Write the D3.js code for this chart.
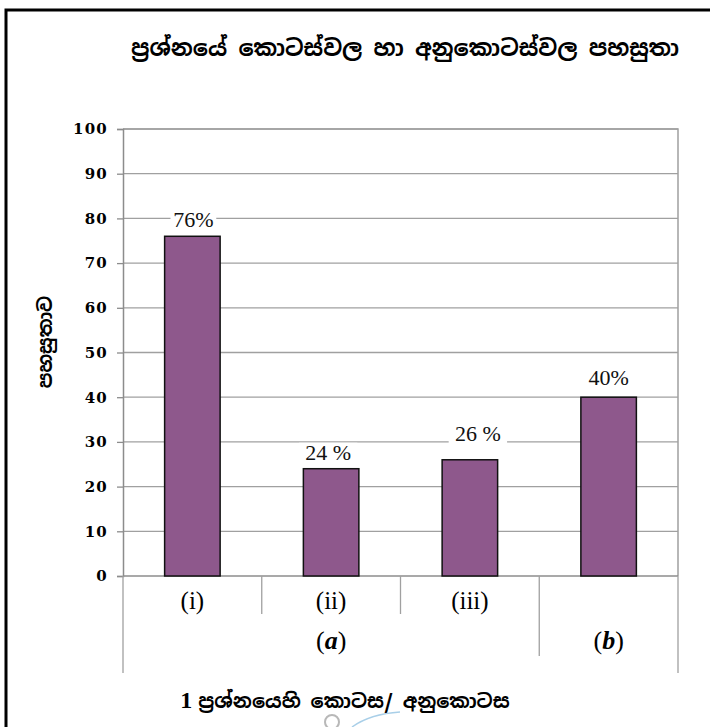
<!DOCTYPE html>
<html>
<head>
<meta charset="utf-8">
<script src="https://cdn.jsdelivr.net/npm/d3@7/dist/d3.min.js"></script>
<style>
  html, body { margin: 0; padding: 0; background: #fff; }
  svg { display: block; }
</style>
</head>
<body>
<script>
// Sub-question labels, their parent question groups and success percentages
const categories = ["(i)", "(ii)", "(iii)", "(b)"];
const subLabels = ["(i)", "(ii)", "(iii)", ""];
const groups = [
  { name: "a", from: 0, to: 3 },
  { name: "b", from: 3, to: 4 }
];
const values = [76, 24, 26, 40];
const valueLabels = ["76%", "24 %", "26 %", "40%"];
const yTicks = [0, 10, 20, 30, 40, 50, 60, 70, 80, 90, 100];

const titleText = "ප්‍රශ්නයේ කොටස්වල හා අනුකොටස්වල පහසුතා";
const yTitle = "පහසුතාව";
const xTitle = "ප්‍රශ්නයෙහි කොටස/ අනුකොටස";

const W = 710, H = 727;
const plot = { left: 123, right: 678, top: 129, bottom: 576 };

// per-label nudges (px) for the value labels: [dx, gap above bar]
const labelNudge = [[1, 9], [-3, 9], [8, 19], [0, 12]];

const svg = d3.select("body").append("svg").attr("width", W).attr("height", H);

// outer frame
svg.append("path")
  .attr("d", `M6,727 L6,10 L712,10`)
  .attr("fill", "none").attr("stroke", "#000").attr("stroke-width", 3);

const x = d3.scaleBand().domain(categories).range([plot.left, plot.right]).paddingInner(0).paddingOuter(0);
const y = d3.scaleLinear().domain([0, 100]).range([plot.bottom, plot.top]);

const serif = "'Liberation Serif', 'Times New Roman', serif";
const tickFont = "'DejaVu Serif', serif";
const sinhala = "'Noto Sans Sinhala', 'Iskoola Pota', 'Noto Sans', sans-serif";

// horizontal gridlines
svg.append("g").selectAll("line").data(yTicks.filter(d => d > 0)).join("line")
  .attr("x1", plot.left).attr("x2", plot.right)
  .attr("y1", d => y(d)).attr("y2", d => y(d))
  .attr("stroke", "#a0a0a0").attr("stroke-width", 1.3);

// plot border (top, right)
svg.append("path")
  .attr("d", `M${plot.left},${plot.top} L${plot.right},${plot.top} L${plot.right},${plot.bottom}`)
  .attr("fill", "none").attr("stroke", "#a0a0a0").attr("stroke-width", 1.5);

// y axis
const yAxis = svg.append("g").attr("transform", `translate(${plot.left},0)`)
  .call(d3.axisLeft(y).tickValues(yTicks).tickSize(6).tickPadding(9));
yAxis.select(".domain").attr("stroke", "#8c8c8c").attr("stroke-width", 1.5);
yAxis.selectAll(".tick line").attr("stroke", "#8c8c8c").attr("stroke-width", 1.3);
yAxis.selectAll(".tick text")
  .attr("font-family", tickFont).attr("font-size", 15).attr("font-weight", "bold")
  .attr("letter-spacing", 1.2).attr("fill", "#000");

// x axis baseline
svg.append("line")
  .attr("x1", plot.left).attr("x2", plot.right)
  .attr("y1", plot.bottom).attr("y2", plot.bottom)
  .attr("stroke", "#8c8c8c").attr("stroke-width", 1.5);

// bars
svg.append("g").selectAll("rect").data(values).join("rect")
  .attr("x", (d, i) => x(categories[i]) + x.bandwidth() * 0.3)
  .attr("width", x.bandwidth() * 0.4)
  .attr("y", d => y(d))
  .attr("height", d => y(0) - y(d))
  .attr("fill", "#8e588c")
  .attr("stroke", "#111").attr("stroke-width", 1.5);

// value labels with white backing
const vl = svg.append("g").selectAll("g").data(values).join("g")
  .attr("transform", (d, i) =>
    `translate(${x(categories[i]) + x.bandwidth() / 2 + labelNudge[i][0]},${y(d) - labelNudge[i][1]})`);
vl.append("rect")
  .attr("x", (d, i) => -valueLabels[i].length * 6.3 - 4).attr("y", -17)
  .attr("width", (d, i) => valueLabels[i].length * 12.6 + 8).attr("height", 21)
  .attr("fill", "#fff");
vl.append("text")
  .attr("text-anchor", "middle")
  .attr("font-family", serif).attr("font-size", 22).attr("fill", "#111")
  .text((d, i) => valueLabels[i]);

// category separators: sub-level, group-level and outer edges
const sepSub = [1, 2];
const sepGroup = [3];
svg.append("g").selectAll("line").data(sepSub).join("line")
  .attr("x1", i => x(categories[i])).attr("x2", i => x(categories[i]))
  .attr("y1", plot.bottom).attr("y2", 614)
  .attr("stroke", "#a0a0a0").attr("stroke-width", 1.3);
svg.append("g").selectAll("line").data(sepGroup).join("line")
  .attr("x1", i => x(categories[i])).attr("x2", i => x(categories[i]))
  .attr("y1", plot.bottom).attr("y2", 656)
  .attr("stroke", "#a0a0a0").attr("stroke-width", 1.3);
svg.append("g").selectAll("line").data([plot.left, plot.right]).join("line")
  .attr("x1", d => d).attr("x2", d => d)
  .attr("y1", plot.bottom).attr("y2", 673)
  .attr("stroke", "#a0a0a0").attr("stroke-width", 1.3);

// sub-level labels
svg.append("g").selectAll("text").data(subLabels).join("text")
  .attr("x", (d, i) => x(categories[i]) + x.bandwidth() / 2)
  .attr("y", 609)
  .attr("text-anchor", "middle")
  .attr("font-family", serif).attr("font-size", 25).attr("fill", "#000")
  .text(d => d);

// group labels
const gl = svg.append("g").selectAll("text").data(groups).join("text")
  .attr("x", g => (x(categories[g.from]) + x(categories[g.to - 1]) + x.bandwidth()) / 2)
  .attr("y", 649)
  .attr("text-anchor", "middle")
  .attr("font-family", serif).attr("font-size", 26).attr("fill", "#000");
gl.append("tspan").text("(");
gl.append("tspan").attr("font-style", "italic").attr("font-weight", "bold").text(g => g.name);
gl.append("tspan").text(")");

// titles
svg.append("text")
  .attr("x", 405).attr("y", 56)
  .attr("text-anchor", "middle")
  .attr("font-family", sinhala).attr("font-size", 22.5).attr("font-weight", "bold").attr("fill", "#000")
  .text(titleText);

svg.append("text")
  .attr("transform", "translate(52,342) rotate(-90)")
  .attr("text-anchor", "middle")
  .attr("font-family", sinhala).attr("font-size", 19).attr("font-weight", "bold").attr("fill", "#000")
  .text(yTitle);

const xt = svg.append("text")
  .attr("x", 345).attr("y", 708)
  .attr("text-anchor", "middle")
  .attr("font-family", sinhala).attr("font-size", 19.5).attr("font-weight", "bold").attr("fill", "#000");
xt.append("tspan").attr("font-family", serif).attr("font-size", 24).text("1 ");
xt.append("tspan").text(xTitle);

// faint seal at the bottom edge
svg.append("circle").attr("cx", 332).attr("cy", 722).attr("r", 7)
  .attr("fill", "none").attr("stroke", "#b8b8b8").attr("stroke-width", 2);
svg.append("path").attr("d", "M352,727 Q370,714 400,712")
  .attr("fill", "none").attr("stroke", "#a9cfe8").attr("stroke-width", 1.5);
</script>
</body>
</html>
